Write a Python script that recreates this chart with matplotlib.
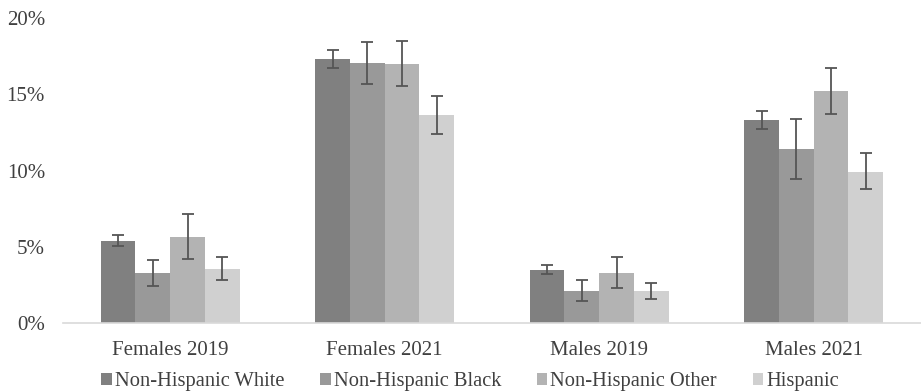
import numpy as np
import matplotlib.pyplot as plt
from matplotlib.ticker import FuncFormatter

plt.rcParams['font.family'] = ['Liberation Serif', 'DejaVu Serif']

# groups on the x axis and the four series
groups = ['Females 2019', 'Females 2021', 'Males 2019', 'Males 2021']
series = ['Non-Hispanic White', 'Non-Hispanic Black', 'Non-Hispanic Other', 'Hispanic']
colors = ['#808080', '#999999', '#b3b3b3', '#d0d0d0']

# percentages per series (one value per group)
nh_white = [5.39, 17.33, 3.48, 13.32]
nh_black = [3.25, 17.04, 2.10, 11.39]
nh_other = [5.63, 17.00, 3.27, 15.22]
hispanic = [3.53, 13.65, 2.06, 9.92]

# confidence interval bounds
nh_white_lo = [5.06, 16.71, 3.20, 12.73]
nh_white_hi = [5.76, 17.94, 3.77, 13.93]
nh_black_lo = [2.43, 15.66, 1.43, 9.42]
nh_black_hi = [4.10, 18.44, 2.83, 13.40]
nh_other_lo = [4.17, 15.53, 2.26, 13.69]
nh_other_hi = [7.14, 18.49, 4.32, 16.75]
hispanic_lo = [2.81, 12.38, 1.54, 8.78]
hispanic_hi = [4.32, 14.91, 2.63, 11.13]

values = [nh_white, nh_black, nh_other, hispanic]
lows = [nh_white_lo, nh_black_lo, nh_other_lo, hispanic_lo]
highs = [nh_white_hi, nh_black_hi, nh_other_hi, hispanic_hi]

fig = plt.figure(figsize=(9.21, 3.92), dpi=100)
ax = fig.add_axes([0.0684, 0.177, 0.9316, 0.776])

x = np.arange(len(groups))
w = 0.162
for i in range(4):
    v = np.array(values[i])
    err = np.vstack([v - np.array(lows[i]), np.array(highs[i]) - v])
    ax.bar(x + (i - 1.5) * w, v, w, color=colors[i], label=series[i],
           yerr=err, error_kw=dict(ecolor='#555555', elinewidth=1.3,
                                   capsize=4, capthick=1.3))

ax.set_xlim(-0.5, 3.5)
ax.set_ylim(0, 20)
ax.set_yticks([0, 5, 10, 15, 20])
ax.yaxis.set_major_formatter(FuncFormatter(lambda v, p: '%d%%' % v))
ax.set_xticks(x)
ax.set_xticklabels(groups)
ax.tick_params(axis='both', length=0, labelsize=15, colors='#404040')
ax.tick_params(axis='y', pad=13)
ax.tick_params(axis='x', pad=13)
for s in ['top', 'right', 'left']:
    ax.spines[s].set_visible(False)
ax.spines['bottom'].set_color('#d9d9d9')
ax.spines['bottom'].set_linewidth(1.2)

fig.legend(loc='lower left', bbox_to_anchor=(0.09, -0.045), ncol=4, frameon=False,
           fontsize=14.8, handlelength=0.5, handleheight=0.5, handletextpad=0.15,
           columnspacing=1.75, labelcolor='#404040')

fig.savefig('out.png', dpi=100)
